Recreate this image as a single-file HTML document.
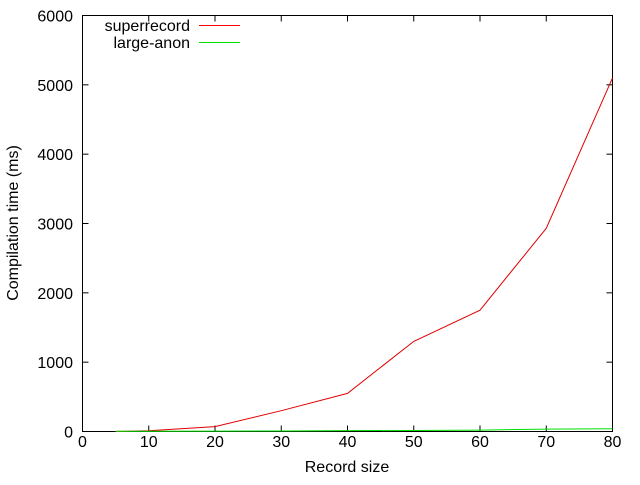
<!DOCTYPE html>
<html><head><meta charset="utf-8"><style>
body{margin:0;background:#fff}
svg text{font-family:"Liberation Sans",Arial,sans-serif;font-size:16px;fill:#000}
</style></head><body>
<svg id="chart" width="640" height="480" xmlns="http://www.w3.org/2000/svg">
<rect x="82.5" y="15.5" width="530" height="416" fill="none" stroke="#000" stroke-width="1"/>
<text transform="translate(18,223) rotate(-90)" text-anchor="middle">Compilation time (ms)</text>
<text x="347" y="472" text-anchor="middle">Record size</text>
<g>
<text x="190" y="31" text-anchor="end">superrecord</text>
<line x1="199" y1="25.5" x2="240" y2="25.5" stroke="#ff0000" stroke-width="1"/>
<text x="190" y="48" text-anchor="end">large-anon</text>
<line x1="199" y1="42.5" x2="240" y2="42.5" stroke="#00e000" stroke-width="1"/>
</g>
</svg>
<script>
const xValues=[5,10,20,30,40,50,60,70,80];
const superrecord=[0,10,70,300,550,1300,1750,2930,5100];
const largeAnon=[3,4,6,8,12,15,20,35,40];
const xTicks=[0,10,20,30,40,50,60,70,80];
const yTicks=[0,1000,2000,3000,4000,5000,6000];
const L=82.5,R=612.5,T=15.5,B=431.5;
const sx=v=>L+(v-0)/80*(R-L);
const sy=v=>B-(v-0)/6000*(B-T);
const svg=document.getElementById('chart');
const NS='http://www.w3.org/2000/svg';
function mk(t,a){const e=document.createElementNS(NS,t);for(const k in a)e.setAttribute(k,a[k]);svg.appendChild(e);return e;}
xTicks.forEach(v=>{
  const x=sx(v);
  let l=mk('line',{x1:x,y1:B,x2:x,y2:B-6,stroke:'#000'});
  
  
  if(v>0&&v<80){let l2=mk('line',{x1:x,y1:T,x2:x,y2:T+6,stroke:'#000'});
  
  }
  let t=mk('text',{x:x,y:447,'text-anchor':'middle'});t.textContent=v;
  
  
});
yTicks.forEach(v=>{
  const y=sy(v);
  let l=mk('line',{x1:L,y1:y,x2:L+6,y2:y,stroke:'#000'});
  
  
  if(v>0&&v<6000){let l2=mk('line',{x1:R,y1:y,x2:R-6,y2:y,stroke:'#000'});
  
  }
  let t=mk('text',{x:73,y:y+6,'text-anchor':'end'});t.textContent=v;
  
  
});
function line(vals,color,name){
  const p=mk('polyline',{points:xValues.map((x,i)=>sx(x)+','+sy(vals[i])).join(' '),fill:'none',stroke:color,'stroke-width':1});
  
  
}
line(superrecord,'#e00000','series-superrecord');
line(largeAnon,'#00e000','series-large-anon');
</script>
</body></html>
